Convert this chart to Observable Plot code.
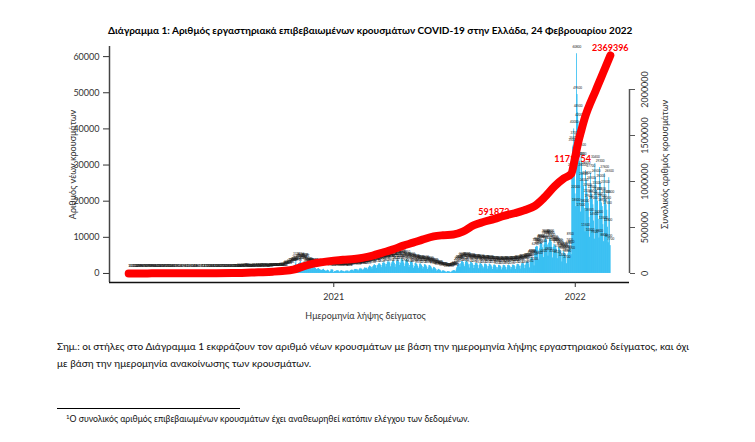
<!DOCTYPE html>
<html><head><meta charset="utf-8">
<script src="https://cdn.jsdelivr.net/npm/d3@7"></script>
<script src="https://cdn.jsdelivr.net/npm/@observablehq/plot@0.6"></script>
<style>
html,body{margin:0;padding:0;background:#fff;}
body{width:755px;height:442px;position:relative;overflow:hidden;font-family:Lato,"Open Sans",sans-serif;color:#111;}
.abs{position:absolute;white-space:nowrap;line-height:1;}
#title{font-weight:bold;font-size:11px;color:#000;}
#note1,#note2{font-size:10px;color:#111;}
#foot{font-size:8px;color:#111;}
#foot sup{font-size:0.7em;vertical-align:0.45em;line-height:0;}
#chart1,#chart2{position:absolute;left:0;top:40px;}
</style></head><body>
<div id="title" class="abs">Διάγραμμα 1: Αριθμός εργαστηριακά επιβεβαιωμένων κρουσμάτων COVID-19 στην Ελλάδα, 24 Φεβρουαρίου 2022</div>
<div id="chart1"></div>
<div id="chart2"></div>
<div id="note1" class="abs">Σημ.: οι στήλες στο Διάγραμμα 1 εκφράζουν τον αριθμό νέων κρουσμάτων με βάση την ημερομηνία λήψης εργαστηριακού δείγματος, και όχι</div>
<div id="note2" class="abs">με βάση την ημερομηνία ανακοίνωσης των κρουσμάτων.</div>
<div style="position:absolute;left:57px;top:408px;width:183px;height:0;border-top:1px solid #000"></div>
<div id="foot" class="abs"><sup>1</sup>Ο συνολικός αριθμός επιβεβαιωμένων κρουσμάτων έχει αναθεωρηθεί κατόπιν ελέγχου των δεδομένων.</div>
<script>
// ---- daily new cases by sampling date (read/estimated from the chart) ----
const feb2020 = [1,2,0,1];
const mar2020 = [0,3,3,2,10,13,12,24,12,17,29,44,37,39,49,56,62,55,65,71,78,70,51,49,76,59,73,71,58,86,78];
const apr2020 = [99,74,52,70,61,40,67,62,52,41,30,26,36,17,20,25,34,36,17,31,97,56,13,29,20,14,11,14,16,14];
const may2020 = [18,6,10,8,11,13,20,9,5,6,1,10,16,24,3,5,2,9,5,8,8,4,10,3,0,12,5,15,6,3,3];
const jun2020 = [0,14,6,22,58,16,8,2,6,6,2,3,17,5,4,7,13,14,3,27,17,3,12,4,20,35,15,21,25,20];
const jul2020 = [28,41,5,27,14,20,24,14,18,24,14,14,13,19,11,21,30,18,31,12,10,40,29,24,31,36,45,37,34,25,62];
const aug2020 = [110,45,17,78,121,114,156,135,203,126,262,167,205,246,230,150,217,269,228,270,168,284,224,159,293,234,223,200,218,191,165];
const sep2020 = [156,293,317,191,212,190,199,273,196,296,372,206,202,243,293,319,338,309,179,239,213,248,303,288,269,229,208,364,394,314];
const oct2020 = [460,359,348,306,316,480,402,339,440,490,312,276,437,608,508,465,621,484,458,866,865,882,1211,1059,935,1259,1547,1211,1720,1690,1690];
const nov2020 = [1909,2056,2166,2646,3316,2311,2056,1914,2752,2752,3109,3316,2835,2329,2198,2488,3209,3038,2997,2311,1498,1695,2151,2120,1793,1811,1746,1392,1295,1505];
const dec2020 = [1335,1674,1699,1395,1408,1089,1135,1306,1388,1186,1081,975,797,891,1006,1022,1159,844,796,590,638,831,924,798,583,358,605,1018,986,1006,867];
const jan2021 = [262,538,487,598,707,757,751,752,530,368,601,731,781,611,624,562,381,496,617,717,620,698,641,428,498,768,847,933,890,888,667];
const feb2021 = [1000,1121,1098,1130,1020,1003,633,958,1204,1418,1210,1239,1139,836,1050,1294,1567,1440,1430,1440,1065,1480,1729,2072,1950,1840,1693,1184];
const mar2021 = [1850,2097,2353,2405,2190,2164,1430,2162,2306,2653,2702,2598,2320,1624,2208,2800,3215,2837,2887,2569,1807,2488,3007,3520,3166,3171,2878,1854,2570,3000,3448];
const apr2021 = [3424,3320,2820,1710,2440,3320,3950,3680,3450,3010,2200,2850,3880,4300,3780,3550,2880,1900,2600,3550,3950,3550,3300,2700,1630,2200,3100,3450,3150,2950];
const may2021 = [2200,1450,1900,2750,2900,2650,2500,2050,1350,1800,2600,2700,2450,2250,1900,1200,1700,2400,2500,2300,2100,1750,1100,1550,2150,2200,2050,1900,1550,950,1300];
const jun2021 = [1700,1650,1500,1300,1050,600,850,1150,1100,950,880,690,380,560,780,730,650,570,450,240,390,530,520,490,430,380,240,410,620,680];
const jul2021 = [780,820,740,490,940,1560,2010,2350,2600,2540,1710,2680,3240,3400,3250,3020,2400,1880,3090,3550,3360,3020,2920,2400,1510,2500,3200,3050,2900,2700,2250];
const aug2021 = [1380,2200,2850,2920,2750,2690,2200,1330,2180,2680,2800,2570,2460,2050,1300,1750,2560,2650,2500,2400,2000,1200,1900,2550,2580,2370,2260,1850,1100,1750,2300];
const sep2021 = [2350,2250,2100,1700,1000,1600,2200,2300,2150,2050,1750,1000,1520,2150,2280,2200,2090,1700,980,1600,2200,2350,2150,2100,1780,1050,1650,2250,2380,2250];
const oct2021 = [2200,1880,1120,1800,2400,2550,2500,2380,2000,1200,2050,2650,2820,2750,2680,2250,1350,2350,3000,3200,3100,3050,2600,1550,3300,4100,4300,4200,4000,3500,2100];
const nov2021 = [6250,7200,7350,7550,7400,6400,3800,6800,8200,8500,8300,8100,7100,4400,7900,9300,9800,9400,9200,7900,4800,8400,9400,9900,9300,8700,7200,4300,7300,8100];
const dec2021 = [7900,7600,7400,6700,4100,5700,7300,7100,6600,6200,5400,3200,5000,6200,6000,5600,5300,4600,2700,4300,5400,6400,7400,8900,6800,5200,28000,35000,35500,40000,37000];
const jan2022 = [22000,18500,60800,49500,44500,36000,42000,31000,17000,33500,31000,28000,25500,24000,18000,11500,28500,25800,22500,21000,19500,15500,10000,27700,24500,22000,20500,19000,14500,9500,30400];
const feb2022 = [26500,23000,21500,20000,15000,9800,29300,25000,21500,19500,18500,13500,8800,27600,23500,20500,19000,17500,12800,8500,26500,20500,7700];

const monthStarts = ["2020-02-26","2020-03-01","2020-04-01","2020-05-01","2020-06-01","2020-07-01","2020-08-01","2020-09-01","2020-10-01","2020-11-01","2020-12-01",
  "2021-01-01","2021-02-01","2021-03-01","2021-04-01","2021-05-01","2021-06-01","2021-07-01","2021-08-01","2021-09-01","2021-10-01","2021-11-01","2021-12-01",
  "2022-01-01","2022-02-01"];
const monthValues = [feb2020,mar2020,apr2020,may2020,jun2020,jul2020,aug2020,sep2020,oct2020,nov2020,dec2020,
  jan2021,feb2021,mar2021,apr2021,may2021,jun2021,jul2021,aug2021,sep2021,oct2021,nov2021,dec2021,jan2022,feb2022];

// ---- cumulative cases (red line, right axis) ----
const cumDates = ["2020-02-26","2020-03-15","2020-04-01","2020-04-15","2020-05-01","2020-06-01","2020-07-01","2020-08-01","2020-08-15","2020-09-01","2020-09-15","2020-10-01","2020-10-15","2020-11-01","2020-11-15","2020-12-01","2020-12-15",
  "2021-01-01","2021-01-15","2021-02-01","2021-02-15","2021-03-01","2021-03-15","2021-04-01","2021-04-15","2021-05-01","2021-05-15","2021-06-01","2021-06-15","2021-07-01","2021-07-15","2021-08-01","2021-08-15","2021-09-01","2021-09-15","2021-10-01","2021-10-15","2021-11-01","2021-11-15","2021-12-01","2021-12-15","2021-12-26",
  "2022-01-01","2022-01-05","2022-01-10","2022-01-15","2022-02-01","2022-02-15","2022-02-23"];
const cumValues = [1,228,1415,2170,2591,2918,3432,4587,6381,10524,14400,19947,27000,42000,75000,107000,124000,
  140000,150000,157000,173000,195000,225000,262000,300000,335000,368000,404000,416000,423000,455000,526000,560000,593000,626000,655000,685000,735000,825000,950000,1035000,1085000,
  1270000,1410000,1550000,1680000,1990000,2230000,2369396];
const labelDates = ["2021-08-31","2021-12-28","2022-02-23"];
const labelValues = [591872,1171754,2369396];

// ---- axes ----
const leftTicks = [0,10000,20000,30000,40000,50000,60000];
const rightTicks = [0,500000,1000000,1500000,2000000];
const xTickDates = ["2021-01-01","2022-01-01"];
const leftTitle = "Αριθμός νέων κρουσμάτων";
const rightTitle = "Συνολικός αριθμός κρουσμάτων";
const xTitle = "Ημερομηνία λήψης δείγματος";

const daily = monthStarts.flatMap((s, k) => monthValues[k].map((v, i) => ({date: d3.utcDay.offset(new Date(s), i), value: v})));
const cumulative = cumDates.map((d, i) => ({date: new Date(d), value: cumValues[i]}));
const redLabels = labelDates.map((d, i) => ({date: new Date(d), value: labelValues[i]}));

const W = 755, H = 290;
const frame = {width: W, height: H, marginLeft: 109, marginRight: 126, marginTop: 6, marginBottom: 48};
const xDomain = [new Date("2020-01-28"), new Date("2022-03-24")];
const font = "Lato, 'Open Sans', sans-serif";

const p1 = Plot.plot({
  ...frame,
  style: {fontFamily: font, fontSize: "9px", color: "#333", background: "transparent", overflow: "visible"},
  x: {type: "utc", domain: xDomain, axis: null},
  y: {domain: [-2500, 62800], axis: null},
  marks: [
    Plot.rectY(daily, {x1: "date", x2: d => d3.utcDay.offset(d.date, 1), y: "value", fill: "#00AEEF"}),
    Plot.text(daily, {x: d => new Date(+d.date + 43200000), y: "value", text: d => String(d.value), fontSize: 3, dy: -7, fill: "#1a1a1a"}),
    Plot.ruleX([xDomain[0]], {stroke: "#444", strokeWidth: 1.5}),
    Plot.ruleY([-2500], {stroke: "#111", strokeWidth: 1.5}),
    Plot.axisY({ticks: leftTicks, tickSize: 6, tickPadding: 4, tickFormat: d3.format("d"), label: null, fontSize: 9, color: "#333"}),
    Plot.axisX({ticks: xTickDates.map(d => new Date(d)), tickFormat: d3.utcFormat("%Y"), tickSize: 5, tickPadding: 6, label: null, fontSize: 9, color: "#333"}),
    Plot.text([leftTitle], {frameAnchor: "left", textAnchor: "middle", dx: -36, rotate: -90, fontSize: 9, text: d => d, fill: "#333"}),
    Plot.text([xTitle], {frameAnchor: "bottom", textAnchor: "middle", dx: -4, dy: 36, fontSize: 9, text: d => d, fill: "#333"})
  ]
});
document.getElementById("chart1").append(p1);

const p2 = Plot.plot({
  ...frame,
  style: {fontFamily: font, fontSize: "9px", color: "#333", background: "transparent", overflow: "visible"},
  x: {type: "utc", domain: xDomain, axis: null},
  y: {domain: [-97800, 2467400], axis: null},
  marks: [
    Plot.line(cumulative, {x: "date", y: "value", stroke: "#ff0000", strokeWidth: 8, strokeLinecap: "round", strokeLinejoin: "round", curve: "monotone-x"}),
    Plot.text(redLabels, {x: "date", y: "value", text: d => String(d.value), fill: "#ff0000", fontWeight: "bold", fontSize: 9, dy: -7}),
    Plot.ruleX([xDomain[1]], {x: d => d, y1: 0, y2: 2000000, stroke: "#555", strokeWidth: 1.5}),
    Plot.axisY({anchor: "right", ticks: rightTicks, tickSize: 5, tickFormat: () => "", label: null, color: "#555"}),
    Plot.text(rightTicks, {y: d => d, frameAnchor: "right", textAnchor: "middle", dx: 16, rotate: -90, text: d => String(d), fontSize: 9, fill: "#333"}),
    Plot.text([rightTitle], {frameAnchor: "right", textAnchor: "middle", dx: 36, rotate: -90, fontSize: 9, text: d => d, fill: "#333"})
  ]
});
document.getElementById("chart2").append(p2);

function fit(id, left, right, cy, fs) {
  const el = document.getElementById(id);
  if (fs) el.style.fontSize = fs + "px";
  else {
    const w = el.getBoundingClientRect().width;
    const f0 = parseFloat(getComputedStyle(el).fontSize);
    el.style.fontSize = (f0 * (right - left) / w) + "px";
  }
  const r = el.getBoundingClientRect();
  el.style.left = left + "px";
  el.style.top = (cy - r.height / 2) + "px";
  return parseFloat(el.style.fontSize);
}
fit("title", 108, 633, 30);
const nfs = fit("note1", 57, 690, 346);
fit("note2", 57, 0, 363, nfs);
fit("foot", 66, 470, 419);
</script>
</body></html>
